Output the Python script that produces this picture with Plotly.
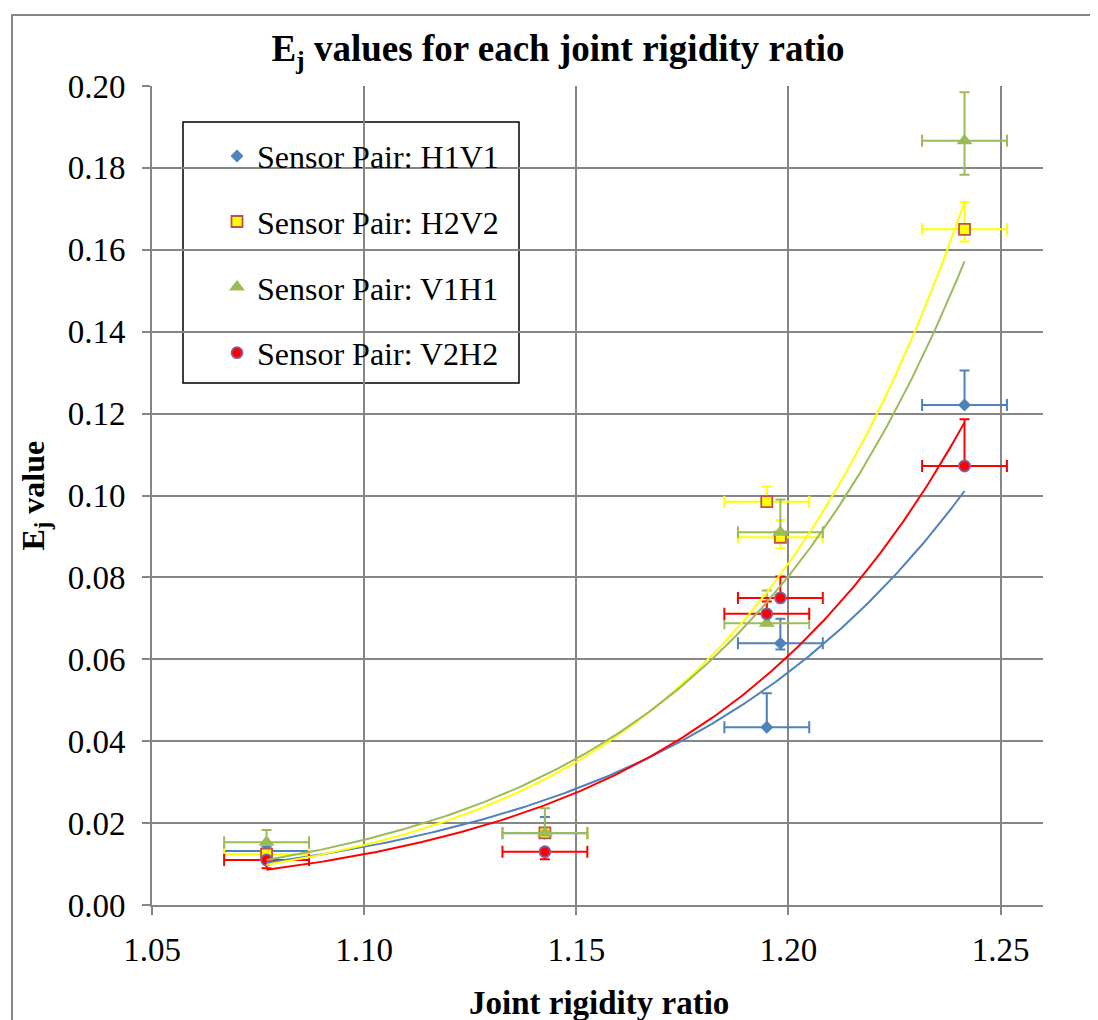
import numpy as np
import plotly.graph_objects as go

# ---- data ----
ratio = [1.077, 1.1426, 1.1949, 1.1981, 1.2415]
x_err = [0.01, 0.01, 0.01, 0.01, 0.01]

h1v1 = [0.0132, 0.0175, 0.0434, 0.0639, 0.1221]
h1v1_plus = [0.001, 0.004, 0.0083, 0.006, 0.0084]
h1v1_minus = [0.0, 0.0, 0.0, 0.0015, 0.0]

h2v2 = [0.0124, 0.0176, 0.0985, 0.0898, 0.1650]
h2v2_plus = [0.001, 0.001, 0.0037, 0.0042, 0.0067]
h2v2_minus = [0.001, 0.001, 0.0, 0.0027, 0.0030]

v1h1 = [0.0153, 0.0176, 0.0688, 0.0910, 0.1866]
v1h1_plus = [0.003, 0.006, 0.008, 0.008, 0.0119]
v1h1_minus = [0.0, 0.0, 0.0, 0.0, 0.0083]

v2h2 = [0.0110, 0.0130, 0.0711, 0.0750, 0.1072]
v2h2_plus = [0.0, 0.0, 0.003, 0.0052, 0.0114]
v2h2_minus = [0.002, 0.0018, 0.0, 0.0, 0.0]

names = ["Sensor Pair: H1V1", "Sensor Pair: H2V2", "Sensor Pair: V1H1", "Sensor Pair: V2H2"]
x_ticks = [1.05, 1.10, 1.15, 1.20, 1.25]
y_ticks = [0, 0.02, 0.04, 0.06, 0.08, 0.10, 0.12, 0.14, 0.16, 0.18, 0.20]

FONT = "Liberation Serif, Times New Roman, serif"
GRID = "#868686"

series = [
    dict(y=h1v1, p=h1v1_plus, m=h1v1_minus, color="#4F81BD",
         marker=dict(symbol="diamond", size=10, color="#4F81BD",
                     line=dict(width=0))),
    dict(y=h2v2, p=h2v2_plus, m=h2v2_minus, color="#FFFF00",
         marker=dict(symbol="square", size=11, color="#FFFF00",
                     line=dict(width=1.8, color="#C0504D"))),
    dict(y=v1h1, p=v1h1_plus, m=v1h1_minus, color="#9BBB59",
         marker=dict(symbol="triangle-up", size=14, color="#9BBB59",
                     line=dict(width=0))),
    dict(y=v2h2, p=v2h2_plus, m=v2h2_minus, color="#FF0000",
         marker=dict(symbol="circle", size=11, color="#FF0000",
                     line=dict(width=1.8, color="#8064A2"))),
]

fig = go.Figure()

for i, s in enumerate(series):
    fig.add_trace(go.Scatter(
        x=ratio, y=s["y"], mode="markers", name=names[i],
        legendgroup=names[i],
        marker=s["marker"],
        error_y=dict(type="data", symmetric=False, array=s["p"], arrayminus=s["m"],
                     color=s["color"], thickness=2, width=5),
        error_x=dict(type="data", array=x_err, color=s["color"], thickness=2, width=6),
    ))

# exponential trendlines (least squares on ln y, like Excel)
xs = np.linspace(min(ratio), max(ratio), 200)
for i, s in enumerate(series):
    b, lna = np.polyfit(ratio, np.log(s["y"]), 1)
    fig.add_trace(go.Scatter(
        x=xs, y=np.exp(lna + b * xs), mode="lines", showlegend=False,
        line=dict(color=s["color"], width=2), hoverinfo="skip",
    ))

fig.update_layout(
    width=1090, height=1012,
    paper_bgcolor="white", plot_bgcolor="white",
    margin=dict(l=144, r=55, t=78, b=115),
    font=dict(family=FONT, size=33, color="black"),
    title=dict(text="<b>E<sub>j</sub> values for each joint rigidity ratio</b>",
               x=0.5046, xref="container", y=0.960, yref="container",
               xanchor="center", yanchor="middle",
               font=dict(family=FONT, size=37, color="black")),
    showlegend=True,
    legend=dict(x=(209 - 144) / 891, y=0.948, xanchor="left", yanchor="top",
                bgcolor="rgba(0,0,0,0)", borderwidth=0,
                font=dict(family=FONT, size=32, color="black"),
                tracegroupgap=21, itemsizing="trace"),
    xaxis=dict(range=[1.05, 1.26], tickvals=x_ticks,
               ticktext=["%.2f" % v for v in x_ticks],
               showgrid=True, gridcolor=GRID, gridwidth=2,
               showline=True, linecolor=GRID, linewidth=2,
               ticks="outside", ticklen=8, tickcolor=GRID, tickwidth=2,
               ticklabelstandoff=6,
               zeroline=False),
    yaxis=dict(range=[0, 0.20], tickvals=y_ticks,
               tickformat=".2f",
               showgrid=True, gridcolor=GRID, gridwidth=2,
               showline=True, linecolor=GRID, linewidth=2,
               ticks="outside", ticklen=8, tickcolor=GRID, tickwidth=2,
               ticklabelstandoff=10,
               zeroline=False),
)

# axis titles
fig.add_annotation(text="<b>Joint rigidity ratio</b>", xref="paper", yref="paper",
                   x=0.5017, y=-0.1197, xanchor="center", yanchor="middle",
                   showarrow=False, font=dict(family=FONT, size=33, color="black"))
fig.add_annotation(text="<b>E<sub>j</sub> value</b>", xref="paper", yref="paper",
                   x=-0.1313, y=0.5, xanchor="center", yanchor="middle", textangle=-90,
                   showarrow=False, font=dict(family=FONT, size=32, color="black"))

# legend frame
fig.add_shape(type="rect", xref="paper", yref="paper",
              x0=(175 - 144) / 891, x1=(511 - 144) / 891,
              y0=(897 - 375) / 819, y1=(897 - 114) / 819,
              line=dict(color="black", width=1.5), fillcolor="white", layer="below")

# chart-area border
fig.add_shape(type="rect", xref="paper", yref="paper",
              x0=-0.1571, x1=1.2, y0=-0.3, y1=1.0867,
              line=dict(color="#868686", width=2), fillcolor="rgba(0,0,0,0)",
              layer="below")

fig.write_html("out.html")
